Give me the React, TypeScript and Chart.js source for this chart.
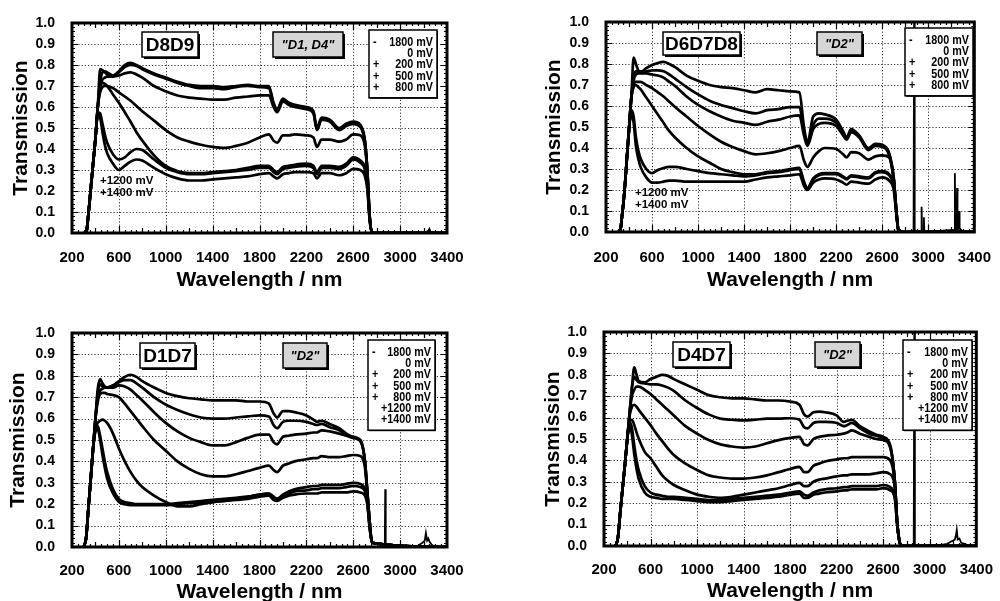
import React, { useEffect, useRef } from "react";
import { Chart, registerables } from "chart.js";

Chart.register(...registerables);

const FONT = '"Liberation Sans", Arial, Helvetica, sans-serif';

// ---------- data ----------
const wavelengths = [
  300, 320, 340, 360, 380, 400, 420, 440, 460, 480, 500,
  550, 600, 650, 700, 750, 800,
  900, 1000, 1100, 1200, 1300, 1400, 1500, 1600, 1700, 1800, 1880,
  1920, 1950, 2000, 2050, 2100, 2200, 2260, 2290, 2330, 2400,
  2480, 2540, 2600, 2660, 2700, 2720, 2740, 2760, 3400,
];

const voltageLabels = ["- 1800 mV", "0 mV", "+ 200 mV", "+ 500 mV", "+ 800 mV", "+1200 mV", "+1400 mV"];
const xTickValues = [200, 600, 1000, 1400, 1800, 2200, 2600, 3000, 3400];

// Panel 1: D8D9
const d8d9_m1800 = [0,0,0.09,0.21,0.33,0.45,0.60,0.78,0.775,0.765,0.755, 0.75,0.77,0.80,0.81,0.80,0.785, 0.76,0.74,0.72,0.705,0.70,0.70,0.695,0.70,0.705,0.70,0.70, 0.62,0.59,0.64,0.62,0.61,0.60,0.58,0.50,0.55,0.54, 0.50,0.52,0.53,0.515,0.44,0.30,0.08,0,0];
const d8d9_0 = [0,0,0.09,0.21,0.33,0.45,0.60,0.72,0.765,0.77,0.765, 0.75,0.765,0.79,0.80,0.795,0.78, 0.755,0.735,0.715,0.70,0.69,0.69,0.685,0.695,0.70,0.695,0.69, 0.615,0.585,0.635,0.615,0.605,0.595,0.575,0.495,0.545,0.535, 0.495,0.515,0.525,0.51,0.435,0.30,0.08,0,0];
const d8d9_200 = [0,0,0.09,0.21,0.33,0.45,0.60,0.70,0.73,0.74,0.745, 0.745,0.75,0.76,0.765,0.755,0.74, 0.70,0.675,0.655,0.645,0.64,0.635,0.635,0.645,0.65,0.655,0.655, 0.60,0.575,0.625,0.61,0.60,0.59,0.57,0.49,0.54,0.53, 0.49,0.51,0.52,0.505,0.43,0.30,0.08,0,0];
const d8d9_500 = [0,0,0.09,0.21,0.33,0.45,0.60,0.67,0.695,0.70,0.70, 0.69,0.67,0.65,0.63,0.605,0.58, 0.535,0.49,0.455,0.435,0.42,0.41,0.405,0.415,0.43,0.455,0.47, 0.44,0.43,0.465,0.465,0.47,0.465,0.455,0.41,0.445,0.445, 0.435,0.445,0.47,0.465,0.41,0.29,0.08,0,0];
const d8d9_800 = [0,0,0.09,0.21,0.33,0.45,0.60,0.69,0.715,0.71,0.70, 0.66,0.62,0.575,0.53,0.48,0.44, 0.37,0.32,0.295,0.285,0.285,0.29,0.295,0.30,0.31,0.32,0.32, 0.30,0.29,0.315,0.32,0.325,0.33,0.32,0.29,0.32,0.32, 0.315,0.33,0.36,0.345,0.31,0.24,0.07,0,0];
const d8d9_1200 = [0,0,0.09,0.21,0.33,0.45,0.575,0.57,0.52,0.47,0.43, 0.375,0.35,0.36,0.385,0.40,0.395, 0.35,0.31,0.29,0.28,0.28,0.285,0.29,0.295,0.30,0.31,0.31, 0.29,0.28,0.305,0.31,0.315,0.32,0.31,0.28,0.31,0.31, 0.305,0.32,0.35,0.335,0.30,0.23,0.07,0,0];
const d8d9_1400 = [0,0,0.09,0.21,0.33,0.45,0.565,0.55,0.48,0.42,0.38, 0.33,0.30,0.32,0.34,0.35,0.345, 0.31,0.28,0.26,0.25,0.25,0.255,0.26,0.265,0.27,0.28,0.285, 0.27,0.26,0.28,0.285,0.29,0.29,0.285,0.26,0.285,0.285, 0.275,0.285,0.305,0.30,0.27,0.21,0.06,0,0];
const d8d9_noiseW = [2760, 3200, 3240, 3250, 3260, 3300, 3400];
const d8d9_noiseT = [0, 0, 0.01, 0.02, 0.005, 0, 0];

// Panel 2: D6D7D8
const d6d7d8_m1800 = [0,0,0.08,0.19,0.34,0.49,0.64,0.83,0.80,0.77,0.76, 0.78,0.795,0.805,0.81,0.80,0.785, 0.745,0.72,0.70,0.69,0.685,0.675,0.665,0.68,0.675,0.67,0.665, 0.50,0.425,0.55,0.565,0.56,0.535,0.48,0.45,0.49,0.46, 0.40,0.42,0.415,0.375,0.26,0.12,0.01,0,0];
const d6d7d8_0 = [0,0,0.08,0.19,0.34,0.49,0.64,0.74,0.765,0.765,0.765, 0.765,0.77,0.77,0.765,0.75,0.73, 0.69,0.655,0.625,0.605,0.59,0.575,0.565,0.58,0.585,0.595,0.595, 0.48,0.42,0.51,0.54,0.54,0.52,0.47,0.445,0.48,0.455, 0.395,0.415,0.41,0.37,0.25,0.12,0.01,0,0];
const d6d7d8_200 = [0,0,0.08,0.19,0.34,0.49,0.64,0.72,0.75,0.755,0.755, 0.755,0.75,0.745,0.735,0.715,0.695, 0.645,0.605,0.575,0.55,0.53,0.52,0.51,0.525,0.535,0.55,0.555, 0.46,0.41,0.49,0.515,0.52,0.505,0.46,0.44,0.475,0.45, 0.39,0.41,0.405,0.365,0.25,0.12,0.01,0,0];
const d6d7d8_500 = [0,0,0.08,0.19,0.34,0.49,0.64,0.70,0.715,0.715,0.715, 0.70,0.685,0.665,0.645,0.62,0.595, 0.55,0.505,0.465,0.43,0.405,0.385,0.37,0.375,0.385,0.40,0.41, 0.34,0.31,0.355,0.385,0.40,0.395,0.37,0.355,0.38,0.375, 0.345,0.36,0.365,0.355,0.25,0.12,0.01,0,0];
const d6d7d8_800 = [0,0,0.08,0.19,0.34,0.49,0.64,0.69,0.70,0.69,0.68, 0.64,0.60,0.56,0.52,0.48,0.45, 0.40,0.36,0.33,0.30,0.285,0.275,0.275,0.285,0.29,0.30,0.305, 0.24,0.21,0.255,0.275,0.28,0.28,0.265,0.255,0.27,0.265, 0.26,0.285,0.29,0.275,0.22,0.11,0.01,0,0];
const d6d7d8_1200 = [0,0,0.08,0.19,0.34,0.49,0.58,0.55,0.45,0.39,0.35, 0.30,0.28,0.295,0.305,0.31,0.31, 0.30,0.29,0.28,0.275,0.27,0.265,0.27,0.28,0.285,0.295,0.30, 0.235,0.205,0.25,0.27,0.275,0.275,0.26,0.25,0.265,0.26, 0.255,0.28,0.285,0.27,0.215,0.11,0.01,0,0];
const d6d7d8_1400 = [0,0,0.08,0.19,0.34,0.49,0.56,0.52,0.41,0.35,0.31, 0.26,0.235,0.235,0.24,0.245,0.245, 0.24,0.24,0.24,0.24,0.24,0.24,0.25,0.26,0.265,0.27,0.275, 0.22,0.20,0.235,0.25,0.255,0.25,0.235,0.225,0.24,0.235, 0.23,0.25,0.26,0.245,0.20,0.10,0.01,0,0];
const d6d7d8_noiseW = [2860, 2872, 2877, 2882, 2930, 2938, 2942, 2946, 2958, 2962, 2966, 3215, 3226, 3231, 3236, 3246, 3250, 3254, 3262, 3267, 3272, 3285, 3300];
const d6d7d8_noiseT = [0, 0, 1.0, 0, 0, 0, 0.12, 0, 0, 0.07, 0, 0.01, 0, 0.28, 0, 0, 0.21, 0, 0, 0.10, 0.02, 0.01, 0];

// Panel 3: D1D7
const d1d7_m1800 = [0,0.04,0.18,0.32,0.46,0.60,0.74,0.785,0.765,0.75,0.745, 0.755,0.775,0.795,0.805,0.795,0.775, 0.745,0.72,0.705,0.695,0.69,0.685,0.685,0.685,0.68,0.68,0.67, 0.625,0.605,0.635,0.635,0.63,0.615,0.595,0.585,0.59,0.575, 0.555,0.53,0.515,0.50,0.40,0.26,0.12,0.02,0];
const d1d7_0 = [0,0.04,0.18,0.32,0.46,0.60,0.72,0.76,0.75,0.745,0.745, 0.755,0.77,0.78,0.78,0.765,0.745, 0.70,0.665,0.64,0.62,0.605,0.60,0.60,0.605,0.61,0.615,0.61, 0.57,0.555,0.585,0.59,0.59,0.585,0.575,0.57,0.575,0.56, 0.545,0.525,0.51,0.495,0.40,0.26,0.12,0.02,0];
const d1d7_200 = [0,0.04,0.18,0.32,0.46,0.60,0.70,0.73,0.74,0.745,0.745, 0.745,0.755,0.75,0.735,0.71,0.685, 0.63,0.58,0.54,0.51,0.49,0.475,0.475,0.49,0.51,0.525,0.525, 0.49,0.48,0.515,0.52,0.525,0.53,0.535,0.535,0.545,0.54, 0.53,0.52,0.51,0.50,0.40,0.26,0.12,0.02,0];
const d1d7_500 = [0,0.04,0.18,0.32,0.46,0.60,0.68,0.715,0.72,0.72,0.715, 0.71,0.70,0.67,0.635,0.60,0.565, 0.50,0.45,0.40,0.365,0.34,0.33,0.33,0.34,0.355,0.37,0.38, 0.36,0.35,0.38,0.39,0.40,0.41,0.415,0.415,0.425,0.42, 0.42,0.425,0.43,0.425,0.37,0.25,0.11,0.02,0];
const d1d7_800 = [0,0.04,0.18,0.32,0.46,0.55,0.58,0.59,0.595,0.59,0.58, 0.53,0.46,0.40,0.35,0.31,0.28, 0.24,0.21,0.19,0.19,0.20,0.21,0.215,0.225,0.235,0.245,0.25, 0.235,0.225,0.245,0.26,0.27,0.28,0.285,0.285,0.29,0.29, 0.29,0.295,0.30,0.295,0.27,0.21,0.10,0.02,0];
const d1d7_1200 = [0,0.04,0.18,0.32,0.46,0.55,0.565,0.52,0.46,0.40,0.35, 0.27,0.225,0.21,0.205,0.20,0.20, 0.20,0.20,0.205,0.21,0.215,0.22,0.225,0.23,0.235,0.245,0.25, 0.23,0.225,0.24,0.25,0.26,0.265,0.27,0.27,0.275,0.275, 0.275,0.28,0.285,0.28,0.26,0.21,0.09,0.02,0];
const d1d7_1400 = [0,0.04,0.18,0.32,0.46,0.54,0.55,0.50,0.43,0.37,0.32, 0.25,0.21,0.20,0.195,0.195,0.195, 0.195,0.195,0.20,0.205,0.205,0.21,0.215,0.22,0.225,0.235,0.24, 0.22,0.215,0.23,0.24,0.245,0.25,0.25,0.25,0.255,0.255, 0.255,0.255,0.26,0.255,0.24,0.20,0.09,0.02,0];
const d1d7_noiseW = [2860, 2869, 2873, 2877, 2890, 3150, 3190, 3210, 3220, 3230, 3240, 3250, 3270, 3300];
const d1d7_noiseT = [0, 0, 0.27, 0, 0, 0.005, 0.02, 0.03, 0.065, 0.03, 0.04, 0.025, 0.01, 0];

// Panel 4: D4D7
const d4d7_m1800 = [0,0.04,0.16,0.27,0.38,0.50,0.62,0.74,0.835,0.80,0.77, 0.765,0.78,0.79,0.80,0.795,0.78, 0.755,0.73,0.705,0.695,0.69,0.69,0.685,0.68,0.68,0.675,0.66, 0.615,0.605,0.625,0.628,0.625,0.61,0.58,0.585,0.59,0.56, 0.535,0.52,0.51,0.47,0.30,0.11,0.02,0,0];
const d4d7_0 = [0,0.04,0.16,0.27,0.38,0.50,0.62,0.74,0.79,0.775,0.765, 0.76,0.755,0.755,0.75,0.74,0.725, 0.68,0.645,0.615,0.595,0.59,0.587,0.59,0.595,0.595,0.597,0.59, 0.555,0.55,0.575,0.58,0.58,0.575,0.56,0.565,0.575,0.55, 0.525,0.515,0.505,0.465,0.30,0.11,0.02,0,0];
const d4d7_200 = [0,0.04,0.16,0.27,0.38,0.50,0.62,0.70,0.73,0.745,0.745, 0.73,0.71,0.685,0.66,0.635,0.61, 0.56,0.525,0.495,0.475,0.465,0.46,0.465,0.48,0.495,0.505,0.51, 0.475,0.47,0.50,0.51,0.515,0.52,0.525,0.53,0.54,0.525, 0.51,0.50,0.495,0.46,0.30,0.11,0.02,0,0];
const d4d7_500 = [0,0.04,0.16,0.27,0.38,0.50,0.61,0.65,0.66,0.65,0.635, 0.60,0.565,0.525,0.49,0.455,0.425, 0.385,0.355,0.33,0.32,0.315,0.315,0.32,0.33,0.345,0.36,0.37, 0.345,0.345,0.375,0.385,0.395,0.405,0.41,0.41,0.415,0.415, 0.415,0.415,0.415,0.40,0.29,0.11,0.02,0,0];
const d4d7_800 = [0,0.04,0.16,0.27,0.38,0.50,0.58,0.59,0.565,0.53,0.50, 0.44,0.41,0.37,0.33,0.305,0.285, 0.26,0.24,0.23,0.225,0.23,0.24,0.25,0.26,0.27,0.285,0.295, 0.28,0.28,0.30,0.31,0.315,0.325,0.33,0.33,0.335,0.335, 0.335,0.34,0.345,0.335,0.27,0.11,0.02,0,0];
const d4d7_1200 = [0,0.04,0.16,0.27,0.38,0.50,0.58,0.55,0.47,0.40,0.35, 0.28,0.25,0.24,0.235,0.23,0.23, 0.225,0.22,0.215,0.215,0.22,0.225,0.23,0.235,0.24,0.25,0.255, 0.24,0.235,0.25,0.26,0.265,0.27,0.275,0.275,0.28,0.28, 0.28,0.28,0.285,0.275,0.23,0.10,0.02,0,0];
const d4d7_1400 = [0,0.04,0.16,0.27,0.38,0.50,0.57,0.52,0.43,0.36,0.31, 0.25,0.23,0.225,0.22,0.22,0.22, 0.215,0.21,0.205,0.205,0.21,0.215,0.22,0.225,0.23,0.24,0.245, 0.225,0.225,0.24,0.245,0.25,0.255,0.26,0.26,0.265,0.265, 0.265,0.265,0.27,0.26,0.22,0.10,0.02,0,0];
const d4d7_noiseW = [2850, 2862, 2867, 2872, 2890, 3100, 3150, 3180, 3200, 3215, 3225, 3232, 3240, 3255, 3270, 3300, 3340];
const d4d7_noiseT = [0, 0, 1.0, 0, 0, 0.005, 0.01, 0.02, 0.025, 0.03, 0.05, 0.075, 0.03, 0.035, 0.015, 0.01, 0];

// ---------- layout config ----------
type Rect = { x: number; y: number; w: number; h: number };
interface Panel {
  key: string;
  left: number; top: number; w: number; h: number;
  area: { l: number; t: number; r: number; b: number };
  yTitleX: number; xTitleY: number; xTickPad: number;
  title: string; quote: string;
  titleBox: Rect; quoteBox: Rect; legendBox: { x: number; y: number; w: number };
  legendN: number;
  side: { x: number; y: number; dy: number } | null;
  series: number[][];
  noiseW: number[]; noiseT: number[];
}

const panels: Panel[] = [
  {
    key: "p1", left: 0, top: 0, w: 500, h: 300,
    area: { l: 72, t: 23, r: 447, b: 233 },
    yTitleX: 21, xTitleY: 280, xTickPad: 8,
    title: "D8D9", quote: '"D1, D4"',
    titleBox: { x: 70, y: 9, w: 56, h: 25 }, quoteBox: { x: 201, y: 9, w: 70, h: 25 },
    legendBox: { x: 297, y: 7, w: 68 }, legendN: 5,
    side: { x: 28, y: 158, dy: 11.5 },
    series: [d8d9_m1800, d8d9_0, d8d9_200, d8d9_500, d8d9_800, d8d9_1200, d8d9_1400],
    noiseW: d8d9_noiseW, noiseT: d8d9_noiseT,
  },
  {
    key: "p2", left: 500, top: 0, w: 500, h: 300,
    area: { l: 106, t: 22, r: 483, b: 232 },
    yTitleX: 54, xTitleY: 280, xTickPad: 9,
    title: "D6D7D8", quote: '"D2"',
    titleBox: { x: 57, y: 10, w: 77, h: 23 }, quoteBox: { x: 211, y: 10, w: 45, h: 23 },
    legendBox: { x: 299, y: 6, w: 68 }, legendN: 5,
    side: { x: 29, y: 171, dy: 12 },
    series: [d6d7d8_m1800, d6d7d8_0, d6d7d8_200, d6d7d8_500, d6d7d8_800, d6d7d8_1200, d6d7d8_1400],
    noiseW: d6d7d8_noiseW, noiseT: d6d7d8_noiseT,
  },
  {
    key: "p3", left: 0, top: 300, w: 500, h: 301,
    area: { l: 72, t: 33, r: 447, b: 247 },
    yTitleX: 18, xTitleY: 292, xTickPad: 7,
    title: "D1D7", quote: '"D2"',
    titleBox: { x: 68, y: 10, w: 55, h: 25 }, quoteBox: { x: 211, y: 10, w: 44, h: 25 },
    legendBox: { x: 296, y: 7, w: 67 }, legendN: 7,
    side: null,
    series: [d1d7_m1800, d1d7_0, d1d7_200, d1d7_500, d1d7_800, d1d7_1200, d1d7_1400],
    noiseW: d1d7_noiseW, noiseT: d1d7_noiseT,
  },
  {
    key: "p4", left: 500, top: 300, w: 500, h: 301,
    area: { l: 104, t: 32, r: 482, b: 246 },
    yTitleX: 53, xTitleY: 291, xTickPad: 7,
    title: "D4D7", quote: '"D2"',
    titleBox: { x: 69, y: 10, w: 57, h: 25 }, quoteBox: { x: 211, y: 10, w: 45, h: 25 },
    legendBox: { x: 299, y: 8, w: 69 }, legendN: 7,
    side: null,
    series: [d4d7_m1800, d4d7_0, d4d7_200, d4d7_500, d4d7_800, d4d7_1200, d4d7_1400],
    noiseW: d4d7_noiseW, noiseT: d4d7_noiseT,
  },
];

function drawBox(ctx: CanvasRenderingContext2D, r: Rect, fill: string, shadow: number) {
  if (shadow > 0) {
    ctx.fillStyle = "#000";
    ctx.fillRect(r.x + shadow, r.y + shadow, r.w, r.h);
  }
  ctx.fillStyle = fill;
  ctx.fillRect(r.x, r.y, r.w, r.h);
  ctx.lineWidth = 1.5;
  ctx.strokeStyle = "#000";
  ctx.strokeRect(r.x, r.y, r.w, r.h);
}

function condensedText(ctx: CanvasRenderingContext2D, text: string, x: number, y: number, align: CanvasTextAlign, sx: number) {
  ctx.save();
  ctx.translate(x, y);
  ctx.scale(sx, 1);
  ctx.textAlign = align;
  ctx.fillText(text, 0, 0);
  ctx.restore();
}

function makeDeco(p: Panel) {
  return {
    id: "deco_" + p.key,
    beforeDatasetsDraw(chart: any) {
      const { ctx, chartArea: a } = chart;
      const xs = chart.scales.x;
      const ys = chart.scales.y;
      ctx.save();
      ctx.beginPath();
      ctx.rect(a.left, a.top, a.right - a.left, a.bottom - a.top);
      ctx.clip();
      ctx.strokeStyle = "#333";
      ctx.lineWidth = 1;
      ctx.setLineDash([1.2, 2]);
      for (const t of xs.ticks) {
        const px = Math.round(xs.getPixelForValue(t.value)) + 0.5;
        ctx.beginPath();
        ctx.moveTo(px, a.top);
        ctx.lineTo(px, a.bottom);
        ctx.stroke();
      }
      for (const t of ys.ticks) {
        const py = Math.round(ys.getPixelForValue(t.value)) + 0.5;
        ctx.beginPath();
        ctx.moveTo(a.left, py);
        ctx.lineTo(a.right, py);
        ctx.stroke();
      }
      ctx.restore();
    },
    afterDatasetsDraw(chart: any) {
      const { ctx, chartArea: a } = chart;
      const xs = chart.scales.x;
      const ys = chart.scales.y;
      ctx.save();
      // inward tick marks
      ctx.strokeStyle = "#000";
      ctx.lineWidth = 1.2;
      ctx.setLineDash([]);
      ctx.beginPath();
      for (let v = 250; v < 3400; v += 50) {
        const len = v % 400 === 200 ? 7 : v % 200 === 0 ? 5 : 3;
        const px = Math.round(xs.getPixelForValue(v)) + 0.5;
        ctx.moveTo(px, a.bottom);
        ctx.lineTo(px, a.bottom - len);
        ctx.moveTo(px, a.top);
        ctx.lineTo(px, a.top + len);
      }
      for (let i = 1; i < 50; i++) {
        const len = i % 5 === 0 ? 6 : 3;
        const py = Math.round(ys.getPixelForValue(i / 50)) + 0.5;
        ctx.moveTo(a.left, py);
        ctx.lineTo(a.left + len, py);
        ctx.moveTo(a.right, py);
        ctx.lineTo(a.right - len, py);
      }
      ctx.stroke();
      // frame
      ctx.lineWidth = 3;
      ctx.strokeRect(a.left, a.top, a.right - a.left, a.bottom - a.top);

      // sample title box
      const tb = { x: a.left + p.titleBox.x, y: a.top + p.titleBox.y, w: p.titleBox.w, h: p.titleBox.h };
      drawBox(ctx, tb, "#fff", 2);
      ctx.fillStyle = "#000";
      ctx.font = `bold 19px ${FONT}`;
      ctx.textAlign = "center";
      ctx.textBaseline = "middle";
      ctx.fillText(p.title, tb.x + tb.w / 2, tb.y + tb.h / 2 + 1);

      // quote box
      const qb = { x: a.left + p.quoteBox.x, y: a.top + p.quoteBox.y, w: p.quoteBox.w, h: p.quoteBox.h };
      drawBox(ctx, qb, "#d6d6d6", 2);
      ctx.fillStyle = "#000";
      ctx.font = `italic bold 13px ${FONT}`;
      ctx.textAlign = "center";
      ctx.fillText(p.quote, qb.x + qb.w / 2, qb.y + qb.h / 2 + 1);

      // legend box
      const n = p.legendN;
      const lb = { x: a.left + p.legendBox.x, y: a.top + p.legendBox.y, w: p.legendBox.w, h: 12.5 + (n - 1) * 11.2 + 10.5 };
      drawBox(ctx, lb, "#fff", 1);
      ctx.fillStyle = "#000";
      ctx.font = `bold 12.5px ${FONT}`;
      ctx.textBaseline = "middle";
      for (let i = 0; i < n; i++) {
        const lab = voltageLabels[i];
        const y = lb.y + 12.5 + i * 11.2;
        const m = lab.match(/^([+-]) (.*)$/);
        if (m) {
          condensedText(ctx, m[1], lb.x + 4, y, "left", 0.86);
          condensedText(ctx, m[2], lb.x + lb.w - 4, y, "right", 0.86);
        } else {
          condensedText(ctx, lab, lb.x + lb.w - 4, y, "right", 0.86);
        }
      }

      // side labels
      if (p.side) {
        ctx.font = `bold 11.5px ${FONT}`;
        ctx.textAlign = "left";
        ctx.textBaseline = "middle";
        for (let i = 5; i < 7; i++) {
          ctx.fillText(voltageLabels[i], a.left + p.side.x, a.top + p.side.y + (i - 5) * p.side.dy);
        }
      }
      ctx.restore();
    },
  };
}

function PanelChart({ p }: { p: Panel }) {
  const ref = useRef<HTMLCanvasElement>(null);
  useEffect(() => {
    const canvas = ref.current;
    if (!canvas) return;
    const datasets: any[] = p.series.map((s, i) => ({
      label: voltageLabels[i],
      data: wavelengths.map((w, j) => ({ x: w, y: s[j] })),
      borderColor: "#000",
      backgroundColor: "#000",
      borderWidth: 2.7,
      pointRadius: 0,
      fill: false,
      cubicInterpolationMode: "monotone",
    }));
    datasets.push({
      label: "noise",
      data: p.noiseW.map((w, j) => ({ x: w, y: p.noiseT[j] })),
      borderColor: "#000",
      borderWidth: 1.8,
      pointRadius: 0,
      fill: false,
      tension: 0,
    });
    const chart = new Chart(canvas, {
      type: "line",
      data: { datasets },
      options: {
        animation: false,
        responsive: false,
        events: [],
        layout: { padding: { left: 0, top: p.area.t, right: p.w - p.area.r, bottom: 0 } },
        plugins: { legend: { display: false }, tooltip: { enabled: false } },
        scales: {
          x: {
            type: "linear",
            min: 200,
            max: 3400,
            afterBuildTicks: (s: any) => { s.ticks = xTickValues.map((v) => ({ value: v })); },
            ticks: {
              autoSkip: false, maxRotation: 0, padding: p.xTickPad, color: "#000",
              font: { family: FONT, size: 15, weight: "bold" },
              callback: (v: any) => String(Math.round(Number(v))),
            },
            grid: { display: false },
            border: { display: false },
            title: {
              display: true, text: "Wavelength / nm", color: "#000",
              font: { family: FONT, size: 21, weight: "bold" },
              padding: { top: 0, bottom: p.h - p.xTitleY - 12.6 },
            },
            afterFit: (s: any) => { s.height = p.h - p.area.b; },
          },
          y: {
            type: "linear",
            min: 0,
            max: 1,
            ticks: {
              stepSize: 0.1, padding: 9, color: "#000",
              font: { family: FONT, size: 14, weight: "bold" },
              callback: (v: any) => Number(v).toFixed(1),
            },
            grid: { display: false },
            border: { display: false },
            title: {
              display: true, text: "Transmission", color: "#000",
              font: { family: FONT, size: 21, weight: "bold" },
              padding: { top: p.yTitleX - 12.6, bottom: 0 },
            },
            afterFit: (s: any) => { s.width = p.area.l; },
          },
        },
      } as any,
      plugins: [makeDeco(p)],
    });
    return () => chart.destroy();
  }, [p]);
  return (
    <canvas
      ref={ref}
      width={p.w}
      height={p.h}
      style={{ position: "absolute", left: p.left, top: p.top, width: p.w, height: p.h }}
    />
  );
}

export default function App() {
  return (
    <div style={{ position: "absolute", left: 0, top: 0, width: 1000, height: 601, background: "#fff", overflow: "hidden" }}>
      {panels.map((p) => (
        <PanelChart key={p.key} p={p} />
      ))}
    </div>
  );
}
